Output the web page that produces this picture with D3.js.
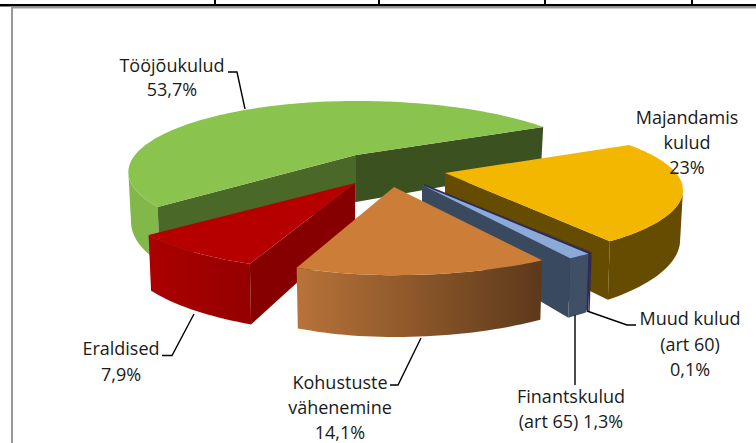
<!DOCTYPE html>
<html><head><meta charset="utf-8">
<script src="https://cdn.jsdelivr.net/npm/d3@7/dist/d3.min.js"></script>
<style>html,body{margin:0;padding:0;background:#fff}svg{display:block}</style>
</head><body><svg id="c" width="756" height="443"></svg>
<script>
// data, clockwise from the first slice
const names = ["Majandamis kulud","Muud kulud (art 60)","Finantskulud (art 65)","Kohustuste vähenemine","Eraldised","Tööjõukulud"];
const values = [23,0.1,1.3,14.1,7.9,53.7];
const labelLines = [["Majandamis","kulud","23%"],["Muud kulud","(art 60)","0,1%"],["Finantskulud","(art 65) 1,3%"],["Kohustuste","vähenemine","14,1%"],["Eraldised","7,9%"],["Tööjõukulud","53,7%"]];

// styles and layout
const topCol = ["#F4B700","#2F2A52","#8CAAD8","#CC7E38","#B60000","#8AC44F"];
const wallFrom = ["#664C00","#2F2A52","#3E4F66","#B87339","#AB0000","#82B84A"];
const wallTo = ["#664C00","#2F2A52","#3E4F66","#5C391A","#950000","#82B84A"];
const startFace = ["#664C00","#2F2A52","#3A4A5E","#8a5528","#870000","#4A6828"];
const endFace = ["#664C00","#2F2A52","#3A4A5E","#8a5528","#870000","#3B5220"];
const apex = [[445,173],[424,184],[422,185],[394,187],[355,183],[356,155]];
const rxLeft = [231,235,235,213,230,221];
const rxRight = [231,235,235,235,230,235];
const paintOrder = [5,0,1,2,4,3];
const labelX = [687,690,571,340,121,172];
const labelY = [124,325,403,389,355,72];
const lineGap = [25,25.5,25,25,25.5,24];
const leaders = [null,[[587,311],[627,325],[636,325]],[[575,315],[575,385]],[[390,385],[398,385],[421,338]],[[162,355.5],[172,355.5],[194,314]],[[228,72],[237,72],[245,109]]];

const rad = d3.scaleLinear().domain([0,360]).range([0,2*Math.PI]);
const pie = d3.pie().sort(null).startAngle(rad(62.3)).endAngle(rad(62.3+360));
const arcs = pie(values);

const RY=67, K=0.24, H=47, TAPER=0.988;
const proj = (i,a,r,z)=>{ // z: 0 top, 1 bottom
  const u=r*Math.sin(a), v=r*Math.cos(a), p=1+K*v;
  const dx=(u<0?rxLeft[i]:rxRight[i])*u/p*(z?TAPER:1), dy=-RY*v/p+(z?H/p:0);
  return [apex[i][0]+dx, apex[i][1]+dy];
};
const line = d3.line();
const svg = d3.select("#c");
const defs = svg.append("defs");
const angles = (a0,a1)=>{const n=Math.max(2,Math.ceil((a1-a0)/rad(1.5)));return d3.range(n+1).map(j=>a0+(a1-a0)*j/n);};
const gTop = svg.append("g");

paintOrder.forEach(i=>{
  const d=arcs[i], g=gTop.append("g");
  const as=angles(d.startAngle,d.endAngle);
  // outer wall: only the arc between the two silhouette points faces the viewer
  const front=as.filter(a=>Math.cos(a)<=-K);
  if(front.length>1){
    const pts=[...front.map(a=>proj(i,a,1,0)),...front.slice().reverse().map(a=>proj(i,a,1,1))];
    const ext=d3.extent(pts,p=>p[0]);
    const gr=defs.append("linearGradient").attr("id","w"+i).attr("gradientUnits","userSpaceOnUse")
      .attr("x1",ext[0]).attr("x2",ext[1]).attr("y1",0).attr("y2",0);
    gr.append("stop").attr("offset",0).attr("stop-color",wallFrom[i]);
    gr.append("stop").attr("offset",1).attr("stop-color",wallTo[i]);
    g.append("path").attr("d",line(pts)+"Z").attr("fill","url(#w"+i+")");
  }
  // radial cut faces
  if(Math.sin(d.startAngle)<0) g.append("path").attr("d",line([proj(i,0,0,0),proj(i,d.startAngle,1,0),proj(i,d.startAngle,1,1),proj(i,0,0,1)])+"Z").attr("fill",startFace[i]);
  if(Math.sin(d.endAngle)>0) g.append("path").attr("d",line([proj(i,0,0,0),proj(i,d.endAngle,1,0),proj(i,d.endAngle,1,1),proj(i,0,0,1)])+"Z").attr("fill",endFace[i]);
  // top
  g.append("path").attr("d",line([proj(i,0,0,0),...as.map(a=>proj(i,a,1,0))])+"Z").attr("fill",topCol[i]);
});

// frame
svg.append("rect").attr("x",0).attr("y",4).attr("width",756).attr("height",2.5).attr("fill","#000");
[215,379,545,692].forEach(x=>svg.append("rect").attr("x",x-1).attr("y",0).attr("width",2).attr("height",5).attr("fill","#000"));
svg.append("rect").attr("x",12).attr("y",6.5).attr("width",744).attr("height",2).attr("fill","#999");
svg.append("rect").attr("x",11).attr("y",6.5).attr("width",2).attr("height",437).attr("fill","#999");

// leaders
leaders.forEach(l=>{ if(l) svg.append("path").attr("d",line(l)).attr("fill","none").attr("stroke","#000").attr("stroke-width",1.4); });

// labels
labelLines.forEach((ls,i)=>{
  ls.forEach((t,j)=>svg.append("text").attr("x",labelX[i]).attr("y",labelY[i]+j*lineGap[i]).attr("text-anchor","middle")
    .attr("font-family","'Open Sans', Lato, sans-serif").attr("font-size",18).attr("fill","#1a1a1a").text(t));
});
</script></body></html>
